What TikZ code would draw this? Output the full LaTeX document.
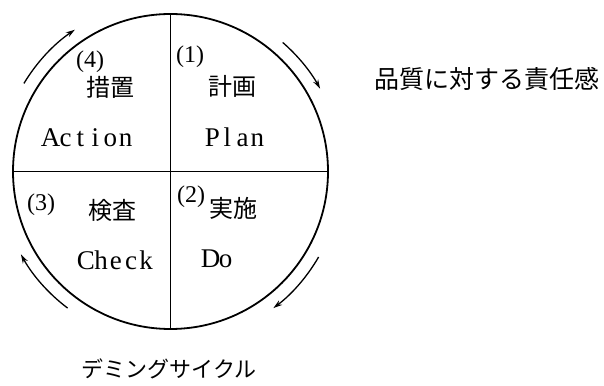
\documentclass[tikz,border=0pt]{standalone}
\usepackage{fontspec}
\setmainfont{Liberation Serif}
\newfontfamily\jpfont{Noto Sans CJK JP}
\usetikzlibrary{arrows.meta}
\newcommand\mbx[1]{\makebox[15pt]{#1}}
\begin{document}
\begin{tikzpicture}[x=1pt,y=1pt,
  jp/.style={inner sep=0pt,font=\jpfont\fontsize{24}{28}\selectfont},
  lat/.style={inner sep=0pt,font=\fontsize{27}{30}\selectfont},
  num/.style={inner sep=0pt,font=\fontsize{24}{28}\selectfont},
  cyc/.style={line width=1.3pt,-{Stealth[length=9pt,width=5.5pt]}}]
\useasboundingbox (0,0) rectangle (604,385);
\coordinate (c) at (170.5,213.5);
\draw[line width=1.8pt] (c) circle[radius=157.5pt];
\path (c) ++(90:157.5pt) coordinate (t) (c) ++(-90:157.5pt) coordinate (b)
      (c) ++(180:157.5pt) coordinate (l) (c) ++(0:157.5pt) coordinate (r);
\draw[line width=1.4pt] (t) -- (b);
\draw[line width=1.4pt] (l) -- (r);
% cycle arrows
\draw[cyc] (c) ++(49:171pt) arc[start angle=49, end angle=29, radius=171pt];
\draw[cyc] (c) ++(-30:171pt) arc[start angle=-30, end angle=-53, radius=171pt];
\draw[cyc] (c) ++(233:171pt) arc[start angle=233, end angle=209, radius=171pt];
\draw[cyc] (c) ++(149:171pt) arc[start angle=149, end angle=124, radius=171pt];
% quadrant texts
\node[num] (n4) at (90,323) {(4)};
\node[jp]  (a1) at (110,298) {措置};
\node[lat] (a2) at (88,247) {\mbx{A}\mbx{c}\mbx{t}\mbx{i}\mbx{o}\mbx{n}};
\node[num] (n1) at (190,328) {(1)};
\node[jp]  (p1) at (232,299) {計画};
\node[lat] (p2) at (235,248) {\mbx{P}\mbx{l}\mbx{a}\mbx{n}};
\node[num] (n3) at (41,180) {(3)};
\node[jp]  (c1) at (112,175) {検査};
\node[lat] (c2) at (116,125) {\mbx{C}\mbx{h}\mbx{e}\mbx{c}\mbx{k}};
\node[num] (n2) at (191,188) {(2)};
\node[jp]  (d1) at (233,177) {実施};
\node[lat] (d2) at (218,126) {\mbx{D}\mbx{o}};
\node[jp,font=\jpfont\fontsize{22}{26}\selectfont] (title) at (169,16) {デミングサイクル};
\node[jp,font=\jpfont\fontsize{25}{28}\selectfont] (side) at (487,306) {品質に対する責任感};
\end{tikzpicture}
\end{document}
